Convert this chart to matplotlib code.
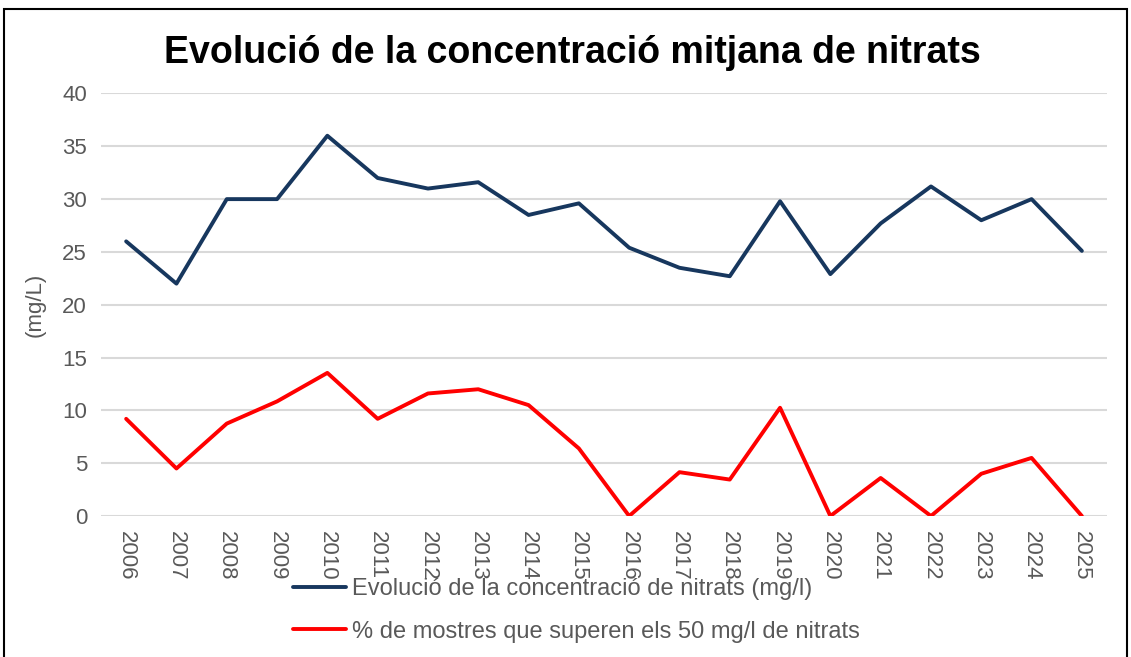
import matplotlib
matplotlib.use("Agg")
import matplotlib.pyplot as plt
from matplotlib.patches import Rectangle

plt.rcParams['font.family'] = ['Liberation Sans', 'DejaVu Sans']

# ---- dades ----
anys = ['2006', '2007', '2008', '2009', '2010', '2011', '2012', '2013', '2014', '2015',
        '2016', '2017', '2018', '2019', '2020', '2021', '2022', '2023', '2024', '2025']
concentracio = [26.0, 22.0, 30.0, 30.0, 36.0, 32.0, 31.0, 31.6, 28.5, 29.6,
                25.4, 23.5, 22.7, 29.8, 22.9, 27.7, 31.2, 28.0, 30.0, 25.1]
pct_mostres = [9.2, 4.5, 8.75, 10.85, 13.55, 9.2, 11.6, 12.0, 10.5, 6.4,
               0.0, 4.15, 3.45, 10.25, 0.0, 3.6, 0.0, 4.0, 5.5, 0.0]
yticks = [0, 5, 10, 15, 20, 25, 30, 35, 40]

lbl_conc = 'Evolució de la concentració de nitrats (mg/l)'
lbl_pct = '% de mostres que superen els 50 mg/l de nitrats'

gris = '#595959'

fig = plt.figure(figsize=(11.31, 6.57), dpi=100)
ax = fig.add_axes([0.0893, 0.2146, 0.8895, 0.6431])

x = list(range(len(anys)))
ax.plot(x, concentracio, color='#17375E', linewidth=2.8, label=lbl_conc,
        solid_joinstyle='round', solid_capstyle='round')
ax.plot(x, pct_mostres, color='#FF0000', linewidth=2.8, label=lbl_pct,
        solid_joinstyle='round', solid_capstyle='round')

ax.set_xlim(-0.5, len(anys) - 0.5)
ax.set_ylim(0, 40)
ax.set_yticks(yticks)
ax.set_xticks(x)
ax.set_xticklabels(anys, rotation=-90)
ax.tick_params(axis='both', length=0, labelsize=16, labelcolor=gris)
ax.tick_params(axis='x', pad=11)
ax.tick_params(axis='y', pad=10)
ax.grid(axis='y', color='#D9D9D9', linewidth=1.5)
ax.set_axisbelow(True)
for s in ax.spines.values():
    s.set_visible(False)

ax.set_ylabel('(mg/L)', fontsize=16, color=gris, labelpad=12)

fig.suptitle('Evolució de la concentració mitjana de nitrats', x=0.506, y=0.947,
             fontsize=27, fontweight='bold', color='black')

fig.legend(loc='center', bbox_to_anchor=(0.51, 0.071), ncol=1, frameon=False,
           fontsize=17, handlelength=2.25, labelspacing=0.88, handletextpad=0.25,
           labelcolor=gris)

# marc de la figura
fig.patches.append(Rectangle((4 / 1131, -0.01), 1123 / 1131, 1 - 9 / 657 + 0.01,
                             transform=fig.transFigure, fill=False,
                             edgecolor='black', linewidth=1.5))

fig.savefig('out.png', dpi=100)
